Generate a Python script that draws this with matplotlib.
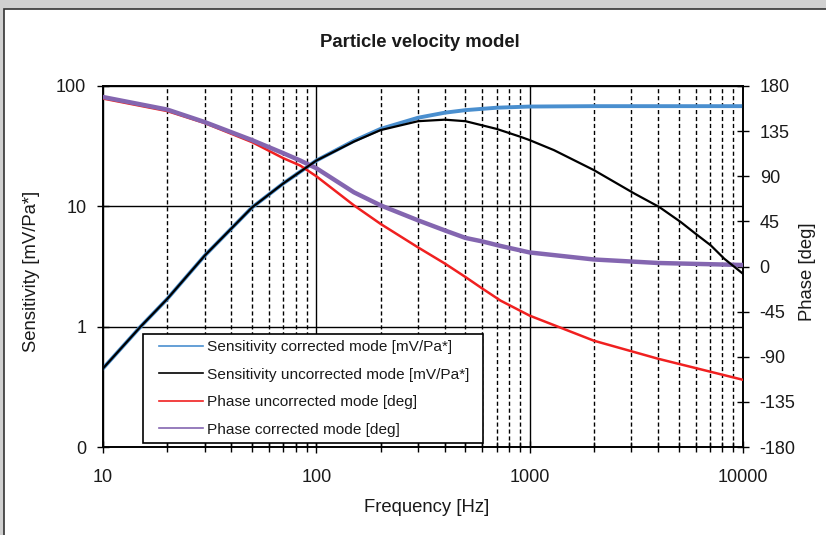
import numpy as np
import matplotlib.pyplot as plt
from matplotlib.lines import Line2D
from matplotlib.legend_handler import HandlerLine2D
from matplotlib.patches import Rectangle

plt.rcParams['font.family'] = ['Liberation Sans', 'DejaVu Sans']
plt.rcParams['axes.unicode_minus'] = False

# values
freq_sens = [10, 15, 20, 30, 50, 70, 100, 150, 200, 300, 400, 500, 700, 1000, 2000, 5000, 10000]
sens_corr = [0.45, 1.0, 1.7, 3.9, 9.8, 15.5, 24, 35, 44, 54.5, 60, 63, 66, 67.5, 68, 68, 68]

freq_unc = [10, 15, 20, 30, 50, 70, 100, 150, 200, 300, 400, 500, 700, 907, 1000, 1300, 2000,
            3090, 4050, 5110, 6010, 7070, 8170, 10000]
sens_unc = [0.45, 1.0, 1.7, 3.9, 9.8, 15.5, 24, 34.5, 43, 51, 52.5, 51, 44, 37.8, 35.5, 29.3, 20.0,
            12.8, 9.87, 7.4, 5.9, 4.73, 3.67, 2.75]

freq_ph = [10, 20, 30, 50, 70, 84, 100, 150, 200, 300, 400, 500, 600, 730, 1000, 2000, 4000, 10000]
ph_corr = [169, 156.5, 144, 126, 113, 105.7, 98, 74, 61, 46, 36, 28.5, 25, 20.5, 14, 7, 3.5, 1.5]
ph_unc = [167.5, 155, 143, 124, 108, 100.7, 90, 61, 42.5, 19, 3, -10.5, -22, -34, -49, -74, -92, -113]

labels = ['Sensitivity corrected mode [mV/Pa*]', 'Sensitivity uncorrected mode [mV/Pa*]',
          'Phase uncorrected mode [deg]', 'Phase corrected mode [deg]']
colors = ['#4a8fcf', '#000000', '#f02020', '#8466b0']
txt = '#1a1a1a'

fig = plt.figure(figsize=(8.26, 5.35), dpi=100, facecolor='#d0d0d0')
fig.patches.append(Rectangle((4 / 826, -0.1), 1.1, 1.1 - 9 / 535, transform=fig.transFigure,
                             facecolor='white', edgecolor='#333333', lw=1.2, zorder=-5))

ax = fig.add_axes([103 / 826, 1 - 447 / 535, 640 / 826, 361 / 535])
ax.set_facecolor('none')
ax.set_xscale('log')
ax.set_yscale('log')
ax.set_xlim(10, 10000)
ax.set_ylim(0.1, 100)
ax.set_yticks([0.1, 1, 10, 100])
ax.set_yticklabels(['0', '1', '10', '100'])
ax.yaxis.set_minor_locator(plt.NullLocator())
ax.set_xticks([10, 100, 1000, 10000])
ax.set_xticklabels(['10', '100', '1000', '10000'])
ax.grid(True, which='major', color='black', lw=1, ls='-')
ax.grid(True, which='minor', axis='x', color='black', lw=1, ls=(0, (3, 2)))
ax.tick_params(axis='both', which='major', direction='inout', length=8, width=1,
               labelsize=13, labelcolor=txt)
ax.tick_params(axis='x', which='major', pad=12)
ax.tick_params(axis='y', which='major', pad=8)
ax.tick_params(axis='x', which='minor', direction='inout', length=7, width=1)
for s in ax.spines.values():
    s.set_linewidth(1.2)

ax2 = ax.twinx()
ax2.set_ylim(-180, 180)
ax2.set_yticks(np.arange(-180, 181, 45))
ax2.tick_params(axis='y', direction='inout', length=8, width=1, labelsize=13,
                labelcolor=txt, pad=8)
for s in ax2.spines.values():
    s.set_linewidth(1.2)
ax2.patch.set_visible(False)
ax.set_zorder(1)
ax2.set_zorder(2)

# all curves on the top axes; sensitivity uses the left (log) scale
ax2.plot(freq_sens, sens_corr, color=colors[0], lw=2.8, zorder=2, transform=ax.transData)
ax2.plot(freq_ph, ph_unc, color=colors[2], lw=1.8, zorder=3)
ax2.plot(freq_ph, ph_corr, color=colors[3], lw=3.2, zorder=4)
ax2.plot(freq_unc, sens_unc, color=colors[1], lw=1.6, zorder=5, transform=ax.transData)

handles = [Line2D([], [], color=c, lw=1.2) for c in colors]
leg = ax2.legend(handles, labels, loc='lower left', bbox_to_anchor=(0.0625, 0.011, 0.531, 0.302),
                 mode='expand', fontsize=11.1, frameon=True, fancybox=False, framealpha=1,
                 edgecolor='black', handlelength=3.5, labelspacing=0.87, borderaxespad=0,
                 handletextpad=0.2, borderpad=0.42,
                 handler_map={h: HandlerLine2D(xpad=0.64) for h in handles})
leg.get_frame().set_linewidth(1.2)
for t in leg.get_texts():
    t.set_color(txt)

fig.text(0.508, 0.921, 'Particle velocity model', ha='center', va='center',
         fontsize=13.3, fontweight='bold', color=txt)
fig.text(0.516, 0.052, 'Frequency [Hz]', ha='center', va='center', fontsize=13.3, color=txt)
fig.text(0.0387, 0.4925, 'Sensitivity [mV/Pa*]', ha='center', va='center', rotation=90,
         fontsize=13.3, color=txt)
fig.text(0.978, 0.4925, 'Phase [deg]', ha='center', va='center', rotation=90,
         fontsize=13.3, color=txt)

fig.savefig('out.png', dpi=100, facecolor=fig.get_facecolor())
